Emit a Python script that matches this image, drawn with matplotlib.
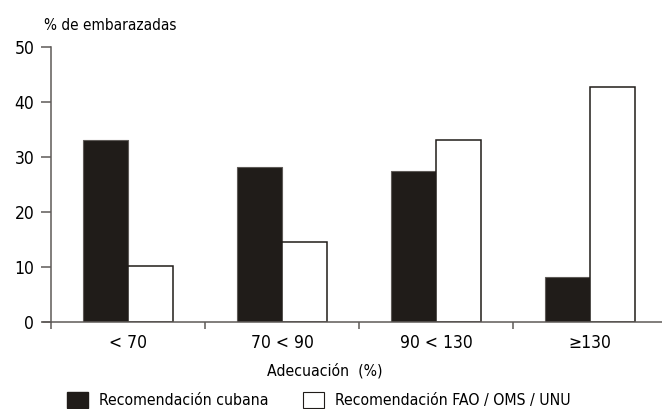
#!/usr/bin/env python3
# -*- coding: utf-8 -*-

# +
# import(s)
# -
import matplotlib
matplotlib.use('Agg')
import matplotlib.pyplot as plt
import numpy as np
from matplotlib.patches import Patch


# +
# data
# -
categorias = ['< 70', '70 < 90', '90 < 130', '\u2265130']
cubana = [33.0, 28.1, 27.5, 8.1]
fao_oms_unu = [10.2, 14.5, 33.0, 42.6]
y_ticks = [0, 10, 20, 30, 40, 50]

etiqueta_y = '% de embarazadas'
etiqueta_x = 'Adecuación  (%)'
leyenda = ['Recomendación cubana', 'Recomendación FAO / OMS / UNU']


# +
# style(s)
# -
plt.rcParams['font.family'] = ['DejaVu Sans']
plt.rcParams['font.stretch'] = 'condensed'
NEGRO = '#201c19'
GRIS = '#5e5a57'
W, H = 662, 409


# +
# plot it
# -
fig = plt.figure(figsize=(W / 100, H / 100), dpi=100)
ax = fig.add_axes([51 / W, 87 / H, 616 / W, 275.3 / H])

x = np.arange(len(categorias))
bw = 0.29
ax.bar(x - bw / 2, cubana, width=bw, color=NEGRO, edgecolor=GRIS, linewidth=0.8, label=leyenda[0])
ax.bar(x + bw / 2, fao_oms_unu, width=bw, color='white', edgecolor=NEGRO, linewidth=1.1, label=leyenda[1])

ax.set_xlim(-0.5, len(categorias) - 0.5)
ax.set_ylim(0, 50)
ax.set_yticks(y_ticks)
ax.set_yticklabels([str(v) for v in y_ticks], fontsize=12.5)
ax.set_xticks(x)
ax.set_xticklabels(categorias, fontsize=12.5)
ax.set_xticks(np.arange(-0.5, len(categorias) + 0.5, 1.0), minor=True)
ax.tick_params(axis='x', which='major', length=0, pad=9)
ax.tick_params(axis='x', which='minor', length=5, width=1.1, color=GRIS)
ax.tick_params(axis='y', length=7, width=1.1, color=GRIS, pad=5)

for s in ['top', 'right']:
    ax.spines[s].set_visible(False)
for s in ['left', 'bottom']:
    ax.spines[s].set_color(GRIS)
    ax.spines[s].set_linewidth(1.1)
ax.spines['bottom'].set_bounds(-0.5 - 8 / 154, len(categorias) - 0.5)

fig.text(44 / W, 1 - 25 / H, etiqueta_y, fontsize=11, ha='left', va='center')
fig.text(325 / W, 1 - 371 / H, etiqueta_x, fontsize=11.3, ha='center', va='center')

handles = [Patch(facecolor=NEGRO, edgecolor=NEGRO), Patch(facecolor='white', edgecolor=NEGRO, linewidth=0.8)]
fig.legend(handles, leyenda, loc='center left', bbox_to_anchor=(67 / W, 1 - 400 / H), ncol=2,
           frameon=False, fontsize=11.3, handlelength=1.35, handleheight=1.25, handletextpad=0.7,
           columnspacing=2.2, borderpad=0, borderaxespad=0)

plt.savefig('out.png', dpi=100)
plt.close()
